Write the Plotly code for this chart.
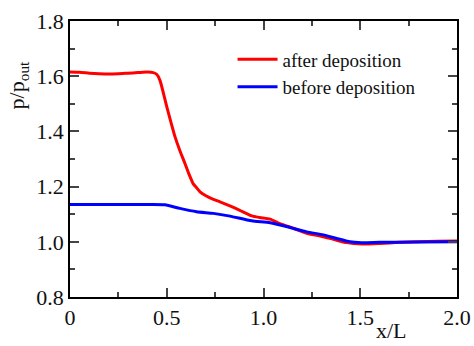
import plotly.graph_objects as go

red_x = [0, 0.05, 0.1, 0.15, 0.2, 0.25, 0.3, 0.35, 0.4, 0.43, 0.448, 0.465, 0.5, 0.543,
         0.568, 0.594, 0.615, 0.637, 0.655, 0.672, 0.7, 0.741, 0.775, 0.82, 0.875, 0.939,
         0.98, 1.034, 1.085, 1.154, 1.223, 1.292, 1.361, 1.43, 1.507, 1.6, 1.7, 1.8, 1.9, 2.0]
red_y = [1.615, 1.614, 1.611, 1.609, 1.608, 1.609, 1.611, 1.613, 1.615, 1.613, 1.607, 1.585,
         1.49, 1.38, 1.33, 1.284, 1.245, 1.21, 1.195, 1.181, 1.168, 1.154, 1.145, 1.132,
         1.115, 1.094, 1.088, 1.082, 1.066, 1.049, 1.031, 1.021, 1.009, 0.997, 0.992, 0.994,
         0.998, 1.0, 1.002, 1.003]

blue_x = [0, 0.1, 0.2, 0.3, 0.4, 0.49, 0.568, 0.654, 0.741, 0.827, 0.939, 1.034, 1.137,
          1.223, 1.309, 1.378, 1.447, 1.507, 1.6, 1.8, 2.0]
blue_y = [1.135, 1.135, 1.135, 1.135, 1.135, 1.134, 1.121, 1.109, 1.103, 1.093, 1.076,
          1.069, 1.052, 1.036, 1.025, 1.012, 1.0, 0.997, 0.998, 0.999, 1.0]

x_ticks = [0, 0.5, 1.0, 1.5, 2.0]
x_labels = ["0", "0.5", "1.0", "1.5", "2.0"]
y_ticks = [0.8, 1.0, 1.2, 1.4, 1.6, 1.8]
y_labels = ["0.8", "1.0", "1.2", "1.4", "1.6", "1.8"]

FONT = "Liberation Serif"
TXT = "#111111"

fig = go.Figure()
fig.add_trace(go.Scatter(x=red_x, y=red_y, mode="lines", name="after deposition",
                         line=dict(color="#ff0000", width=3, shape="spline", smoothing=0.6)))
fig.add_trace(go.Scatter(x=blue_x, y=blue_y, mode="lines", name="before deposition",
                         line=dict(color="#0000ff", width=3, shape="spline", smoothing=0.6)))

axis_common = dict(
    showgrid=False, zeroline=False, showline=True, linecolor="black", linewidth=1.5,
    mirror="allticks", ticks="inside", ticklen=9, tickwidth=1.5, tickcolor="#444444",
    tickfont=dict(family=FONT, size=22, color=TXT), automargin=False,
)

fig.update_layout(
    width=474, height=346,
    margin=dict(l=70, r=17, t=21, b=49, autoexpand=False),
    paper_bgcolor="white", plot_bgcolor="white",
    font=dict(family=FONT, color=TXT),
    showlegend=True,
    legend=dict(x=0.42, y=0.93, xanchor="left", yanchor="top",
                bgcolor="rgba(0,0,0,0)", font=dict(family=FONT, size=19, color=TXT),
                itemwidth=40, tracegroupgap=0),
    xaxis=dict(range=[0, 2.0], tickvals=x_ticks, ticktext=x_labels,
               minor=dict(dtick=0.25, ticks="inside", ticklen=5, tickwidth=1.5, tickcolor="#444444"),
               **axis_common),
    yaxis=dict(range=[0.8, 1.8], tickvals=y_ticks, ticktext=y_labels,
               minor=dict(dtick=0.1, ticks="inside", ticklen=5, tickwidth=1.5, tickcolor="#444444"),
               **axis_common),
    annotations=[
        dict(text="x/L", xref="paper", yref="paper", x=0.83, y=-0.122,
             xanchor="center", yanchor="middle", showarrow=False,
             font=dict(family=FONT, size=22, color=TXT)),
        dict(text="p/p<sub>out</sub>", xref="paper", yref="paper", x=-0.132, y=0.77,
             xanchor="center", yanchor="middle", showarrow=False, textangle=-90,
             font=dict(family=FONT, size=22, color=TXT)),
    ],
)

fig.write_html("out.html")
